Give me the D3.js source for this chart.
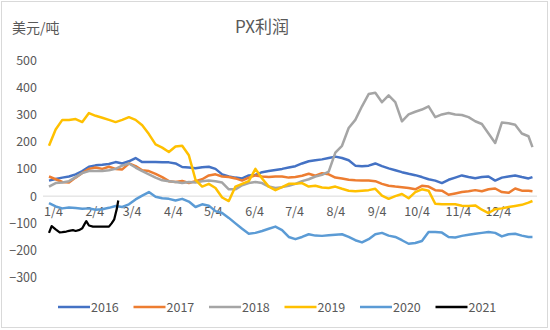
<!DOCTYPE html>
<html>
<head>
<meta charset="utf-8">
<script src="https://cdn.jsdelivr.net/npm/d3@7"></script>
<style>
  html, body { margin: 0; padding: 0; background: #fff; }
  svg { display: block; }
  text { font-family: "Noto Sans CJK SC", "Noto Sans", sans-serif; fill: #595959; }
</style>
</head>
<body>
<svg id="chart" width="550" height="330"></svg>
<script>
// ---- data ----
const title = "PX利润";
const unitLabel = "美元/吨";
const years = ["2016", "2017", "2018", "2019", "2020", "2021"];
const colors = ["#4472C4", "#ED7D31", "#A5A5A5", "#FFC000", "#5B9BD5", "#000000"];

// day-of-year offsets (from Jan 1) of the sampled observations
const sampleDays = [0,5,10,15,20,25,30,35,40,45,50,55,60,65,70,75,80,85,90,95,
  100,105,110,115,120,125,130,135,140,145,150,155,160,165,170,175,180,185,190,195,
  200,205,210,215,220,225,230,235,240,245,250,255,260,265,270,275,280,285,290,295,
  300,305,310,315,320,325,330,335,340,345,350,355,360,363];
const days2021 = [0,2,5,8,10,13,15,18,20,23,25,27,28,30,33,35,40,45,47,49,50,51,52];

const v2016 = [57,63,68,72,80,92,108,113,115,118,125,120,128,140,125,125,125,124,124,120,
  107,105,102,106,108,100,80,72,68,65,76,78,88,92,96,100,105,110,120,128,
  132,135,140,145,140,132,112,110,112,120,110,102,95,88,82,77,70,62,57,48,
  60,68,76,70,66,70,72,57,68,72,76,70,65,70];
const v2017 = [72,62,52,50,68,85,100,105,100,108,100,98,120,110,95,92,82,70,55,52,
  56,48,55,62,76,80,72,70,65,57,68,76,72,70,72,72,68,70,75,82,
  75,84,80,68,65,60,58,57,57,55,45,38,35,33,30,25,38,35,22,20,
  5,10,15,18,22,18,25,28,15,12,28,20,20,18];
const v2018 = [35,48,50,55,70,85,92,92,92,95,100,112,120,105,92,80,68,58,55,52,
  48,52,50,55,57,55,50,25,25,40,48,52,48,35,30,33,38,45,55,62,
  72,78,90,160,185,250,280,330,375,380,345,370,345,275,300,310,318,330,290,300,
  305,300,298,290,275,265,230,195,270,268,262,230,220,180];
const v2019 = [185,245,280,280,283,272,305,295,288,280,272,280,290,280,260,228,190,178,162,182,
  185,150,60,35,45,30,-5,-18,35,45,55,100,65,35,22,33,45,45,48,35,
  38,32,30,35,27,20,18,20,22,27,2,-10,0,8,-8,15,25,20,-28,-30,
  -30,-30,-35,-36,-34,-50,-62,-48,-45,-40,-36,-32,-24,-18];
const v2020 = [-26,-38,-45,-42,-44,-46,-45,-50,-48,-43,-36,-40,-30,-12,2,15,-2,-8,-10,-16,
  -10,-20,-40,-30,-35,-55,-62,-80,-100,-120,-138,-135,-128,-120,-112,-125,-150,-158,-150,-140,
  -145,-146,-144,-142,-140,-150,-162,-170,-158,-140,-135,-145,-150,-162,-175,-172,-165,-132,-132,-134,
  -150,-152,-146,-142,-138,-135,-132,-135,-148,-140,-138,-145,-150,-150];
const v2021 = [-135,-110,-122,-133,-132,-130,-128,-125,-128,-124,-118,-100,-92,-108,-112,-112,-112,-112,-100,-85,-65,-45,-16];

const seriesValues = [v2016, v2017, v2018, v2019, v2020, v2021];
const seriesDays = [sampleDays, sampleDays, sampleDays, sampleDays, sampleDays, days2021];

const yTicks = [-300, -200, -100, 0, 100, 200, 300, 400, 500];
const xTickLabels = ["1/4","2/4","3/4","4/4","5/4","6/4","7/4","8/4","9/4","10/4","11/4","12/4"];

// ---- drawing ----
const svg = d3.select("#chart");
const baseYear = 2021;
const dayToDate = d => d3.timeDay.offset(new Date(baseYear, 0, 1), d);

const x = d3.scaleTime()
  .domain([new Date(baseYear, 0, 1), new Date(baseYear, 11, 31)])
  .range([49, 533.8]);
const y = d3.scaleLinear().domain([-300, 500]).range([277.8, 60]);

// chart border
svg.append("rect").attr("x", 1.5).attr("y", 1.5).attr("width", 546).attr("height", 326)
  .attr("fill", "none").attr("stroke", "#D9D9D9").attr("stroke-width", 1);

// title & unit
svg.append("text").attr("x", 262).attr("y", 33).attr("text-anchor", "middle")
  .style("font-size", "17px").text(title);
svg.append("text").attr("x", 12).attr("y", 33).attr("text-anchor", "start")
  .style("font-size", "14px").text(unitLabel);

// zero line
svg.append("line").attr("x1", 43).attr("x2", 537)
  .attr("y1", y(0)).attr("y2", y(0))
  .attr("stroke", "#D9D9D9").attr("stroke-width", 1);

// y axis
const yAxis = svg.append("g").attr("transform", "translate(37,0)")
  .call(d3.axisLeft(y).tickValues(yTicks).tickSize(0).tickPadding(0).tickFormat(d3.format("d")));
yAxis.select(".domain").remove();
yAxis.selectAll("text").style("font-size", "12.5px").style("font-family", "'Noto Sans CJK SC', sans-serif").attr("fill", "#595959");

// x axis (labels sit below the zero line)
const tickDates = xTickLabels.map((_, i) => new Date(baseYear, i, 4));
const xAxis = svg.append("g").attr("transform", `translate(0,${y(0)})`)
  .call(d3.axisBottom(x).tickValues(tickDates).tickSize(0).tickPadding(11)
    .tickFormat((d, i) => xTickLabels[i]));
xAxis.select(".domain").remove();
xAxis.selectAll("text").style("font-size", "12.5px").style("font-family", "'Noto Sans CJK SC', sans-serif").attr("fill", "#595959");

// lines
const line = d3.line().x(d => x(d[0])).y(d => y(d[1]));
seriesValues.forEach((vals, i) => {
  const pts = vals.map((v, j) => [dayToDate(seriesDays[i][j]), v]);
  svg.append("path").datum(pts)
    .attr("fill", "none")
    .attr("stroke", colors[i])
    .attr("stroke-width", i === 5 ? 2.25 : 2.5)
    .attr("stroke-linejoin", "round")
    .attr("d", line);
});

// legend
const legend = svg.append("g").attr("transform", "translate(58,307)");
years.forEach((yr, i) => {
  const g = legend.append("g").attr("transform", `translate(${i * 75.5},0)`);
  g.append("line").attr("x1", 0).attr("x2", 32).attr("y1", 0).attr("y2", 0)
    .attr("stroke", colors[i]).attr("stroke-width", 2.5);
  g.append("text").attr("x", 33).attr("y", 4.5).style("font-size", "12.5px").text(yr);
});
</script>
</body>
</html>
